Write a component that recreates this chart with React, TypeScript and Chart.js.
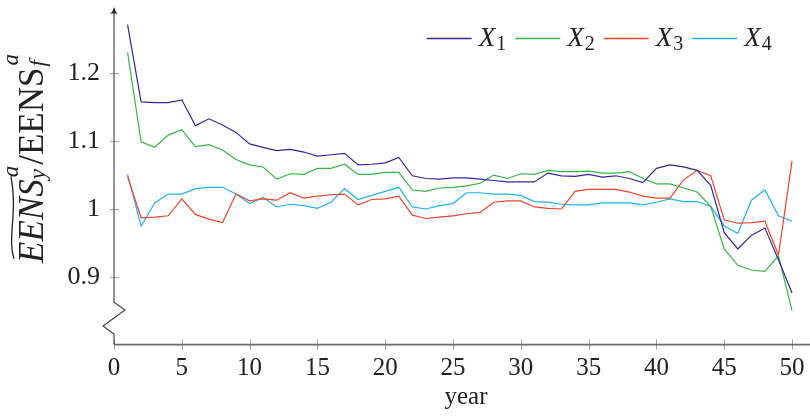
import React, { useEffect, useRef } from "react";
import { Chart, registerables } from "chart.js";

Chart.register(...registerables);

const years = [
  1, 2, 3, 4, 5, 6, 7, 8, 9, 10, 11, 12, 13, 14, 15, 16, 17, 18, 19, 20, 21, 22, 23, 24, 25,
  26, 27, 28, 29, 30, 31, 32, 33, 34, 35, 36, 37, 38, 39, 40, 41, 42, 43, 44, 45, 46, 47, 48, 49, 50,
];

const seriesX1 = [
  1.272, 1.158, 1.157, 1.157, 1.161, 1.123, 1.133, 1.124, 1.113, 1.096,
  1.091, 1.086, 1.088, 1.084, 1.078, 1.08, 1.082, 1.065, 1.066, 1.068,
  1.076, 1.049, 1.045, 1.044, 1.046, 1.046, 1.044, 1.042, 1.04, 1.04,
  1.04, 1.053, 1.049, 1.048, 1.051, 1.047, 1.049, 1.045, 1.039, 1.06,
  1.065, 1.062, 1.057, 1.035, 0.965, 0.941, 0.961, 0.972, 0.925, 0.876,
];
const seriesX2 = [
  1.231, 1.099, 1.091, 1.109, 1.117, 1.092, 1.095, 1.087, 1.073, 1.065,
  1.062, 1.044, 1.052, 1.051, 1.06, 1.06, 1.066, 1.051, 1.051, 1.054,
  1.054, 1.028, 1.026, 1.031, 1.032, 1.034, 1.038, 1.05, 1.045, 1.052,
  1.051, 1.057, 1.055, 1.055, 1.056, 1.053, 1.053, 1.055, 1.045, 1.037,
  1.037, 1.031, 1.025, 1.004, 0.941, 0.917, 0.91, 0.908, 0.931, 0.85,
];
const seriesX3 = [
  1.048, 0.987, 0.988, 0.99, 1.015, 0.992, 0.985, 0.98, 1.022, 1.012,
  1.015, 1.013, 1.024, 1.016, 1.019, 1.021, 1.022, 1.006, 1.014, 1.015,
  1.019, 0.991, 0.986, 0.988, 0.99, 0.993, 0.995, 1.01, 1.012, 1.012,
  1.003, 1.001, 1.0, 1.026, 1.029, 1.029, 1.029, 1.025, 1.019, 1.016,
  1.016, 1.043, 1.057, 1.049, 0.984, 0.979, 0.98, 0.982, 0.932, 1.071,
];
const seriesX4 = [
  1.051, 0.975, 1.009, 1.022, 1.022, 1.03, 1.032, 1.032, 1.022, 1.008,
  1.017, 1.003, 1.007, 1.005, 1.001, 1.01, 1.03, 1.014, 1.02, 1.026,
  1.032, 1.003, 1.0, 1.005, 1.008, 1.024, 1.024, 1.022, 1.022, 1.02,
  1.011, 1.01, 1.007, 1.006, 1.006, 1.009, 1.009, 1.009, 1.006, 1.01,
  1.015, 1.011, 1.011, 1.004, 0.975, 0.964, 1.013, 1.028, 0.99, 0.982,
];

const seriesNames = ["X", "X", "X", "X"];
const seriesSubs = ["1", "2", "3", "4"];
const seriesColors = ["#33289a", "#35b548", "#f0432b", "#1fb2ee"];

const xTickValues = [0, 5, 10, 15, 20, 25, 30, 35, 40, 45, 50];
const yTickValues = [0.9, 1, 1.1, 1.2];
const yTickLabels = ["0.9", "1", "1.1", "1.2"];
const xAxisTitle = "year";

const SERIF = '"Liberation Serif", "DejaVu Serif", serif';

const decor = {
  id: "decor",
  afterDraw(chart: any) {
    const { ctx, scales } = chart;
    const xs = scales.x;
    const ys = scales.y;
    const x0 = xs.getPixelForValue(0);
    const yb = ys.getPixelForValue(0.8);
    const ytop = ys.getPixelForValue(1.298);
    ctx.save();

    // tick marks
    ctx.strokeStyle = "#a0a0a0";
    ctx.lineWidth = 1;
    for (const v of yTickValues) {
      const p = Math.round(ys.getPixelForValue(v)) + 0.5;
      ctx.beginPath();
      ctx.moveTo(x0 - 4, p);
      ctx.lineTo(x0 + 5, p);
      ctx.stroke();
    }
    for (const v of xTickValues) {
      const p = Math.round(xs.getPixelForValue(v)) + 0.5;
      ctx.beginPath();
      ctx.moveTo(p, yb - 5);
      ctx.lineTo(p, yb + 5);
      ctx.stroke();
    }

    // x axis
    ctx.strokeStyle = "#6a6a6a";
    ctx.lineWidth = 1.6;
    ctx.beginPath();
    ctx.moveTo(x0, yb);
    ctx.lineTo(chart.width, yb);
    ctx.stroke();

    // y axis with break
    ctx.strokeStyle = "#3a3a3a";
    ctx.lineWidth = 1.1;
    ctx.beginPath();
    ctx.moveTo(x0, ytop + 2);
    ctx.lineTo(x0, yb - 42.3);
    ctx.lineTo(x0 + 11, yb - 34.6);
    ctx.lineTo(x0 - 11, yb - 18.6);
    ctx.lineTo(x0, yb - 10.6);
    ctx.lineTo(x0, yb);
    ctx.stroke();

    // arrow head
    ctx.fillStyle = "#222";
    ctx.beginPath();
    ctx.moveTo(x0, ytop);
    ctx.quadraticCurveTo(x0 + 1, ytop + 4, x0 + 3.5, ytop + 7);
    ctx.quadraticCurveTo(x0, ytop + 5.5, x0 - 3.5, ytop + 7);
    ctx.quadraticCurveTo(x0 - 1, ytop + 4, x0, ytop);
    ctx.fill();

    // x axis title
    ctx.fillStyle = "#222";
    ctx.font = `25px ${SERIF}`;
    ctx.textAlign = "center";
    ctx.textBaseline = "alphabetic";
    ctx.fillText(xAxisTitle, 466, 404);

    // legend
    ctx.textAlign = "left";
    let sx = 426.7;
    const ly = 38.5;
    const mainFont = `italic 27px ${SERIF}`;
    const subFont = `20px ${SERIF}`;
    for (let i = 0; i < seriesNames.length; i++) {
      ctx.strokeStyle = seriesColors[i];
      ctx.lineWidth = 1.3;
      ctx.beginPath();
      ctx.moveTo(sx, ly);
      ctx.lineTo(sx + 45, ly);
      ctx.stroke();
      ctx.fillStyle = "#222";
      ctx.font = mainFont;
      const tx = sx + 52;
      ctx.fillText(seriesNames[i], tx, 46);
      const w1 = ctx.measureText(seriesNames[i]).width;
      ctx.font = subFont;
      ctx.fillText(seriesSubs[i], tx + w1 + 1, 50);
      const w2 = ctx.measureText(seriesSubs[i]).width;
      sx = tx + w1 + 1 + w2 + 9;
    }

    // y axis title (rotated)
    ctx.save();
    ctx.translate(43, 158);
    ctx.rotate(-Math.PI / 2);
    const big = 35;
    const small = 23;
    const fItal = `italic ${big}px ${SERIF}`;
    const fUp = `${big}px ${SERIF}`;
    const fSmall = `italic ${small}px ${SERIF}`;
    ctx.font = fItal;
    const wA = ctx.measureText("EENS").width;
    ctx.font = fSmall;
    const wSup = Math.max(ctx.measureText("a").width, ctx.measureText("y").width) + 3;
    ctx.font = fUp;
    const wSl = ctx.measureText("/").width;
    const wB = ctx.measureText("EENS").width;
    const total = wA + wSup + wSl + wB + wSup;
    let px = -total / 2;
    ctx.fillStyle = "#222";
    ctx.textAlign = "left";
    ctx.font = fItal;
    ctx.fillText("EENS", px, 0);
    ctx.strokeStyle = "#222";
    ctx.lineWidth = 1.3;
    ctx.beginPath();
    const ty = -29;
    ctx.moveTo(px + 4, ty);
    ctx.bezierCurveTo(px + wA * 0.3, ty - 7, px + wA * 0.6, ty + 4, px + wA + 3, ty - 3);
    ctx.stroke();
    px += wA;
    ctx.font = fSmall;
    ctx.fillText("a", px + 2, -25);
    ctx.fillText("y", px, 2);
    px += wSup;
    ctx.font = fUp;
    ctx.fillText("/", px, 0);
    px += wSl;
    ctx.fillText("EENS", px, 0);
    px += wB;
    ctx.font = fSmall;
    ctx.fillText("a", px + 2, -25);
    ctx.fillText("f", px + 1, 2);
    ctx.restore();

    ctx.restore();
  },
};

export default function App() {
  const canvasRef = useRef<HTMLCanvasElement | null>(null);

  useEffect(() => {
    const canvas = canvasRef.current;
    if (!canvas) return;
    const mk = (data: number[], i: number) => ({
      label: seriesNames[i] + seriesSubs[i],
      data: years.map((x, j) => ({ x, y: data[j] })),
      borderColor: seriesColors[i],
      backgroundColor: seriesColors[i],
      borderWidth: 1.2,
      pointRadius: 0,
      tension: 0,
      fill: false,
    });
    const chart = new Chart(canvas, {
      type: "line",
      data: {
        datasets: [mk(seriesX1, 0), mk(seriesX2, 1), mk(seriesX3, 2), mk(seriesX4, 3)],
      },
      options: {
        animation: false,
        responsive: true,
        maintainAspectRatio: false,
        layout: { padding: { top: 5.6, right: 4.4, left: 0, bottom: 0 } },
        plugins: {
          legend: { display: false },
          tooltip: { enabled: false },
        },
        scales: {
          x: {
            type: "linear",
            min: 0,
            max: 51,
            grid: { display: false, drawTicks: false },
            border: { display: false },
            afterBuildTicks: (scale: any) => {
              scale.ticks = xTickValues.map((v) => ({ value: v }));
            },
            afterFit: (scale: any) => {
              scale.height = 71.4;
              scale.paddingLeft = 0;
              scale.paddingRight = 0;
            },
            ticks: {
              padding: 9,
              color: "#222",
              font: { family: SERIF, size: 25 },
              maxRotation: 0,
              autoSkip: false,
              callback: (v: any) => String(v),
            },
          },
          y: {
            type: "linear",
            min: 0.8,
            max: 1.3,
            grid: { display: false, drawTicks: false },
            border: { display: false },
            afterBuildTicks: (scale: any) => {
              scale.ticks = yTickValues.map((v) => ({ value: v }));
            },
            afterFit: (scale: any) => {
              scale.width = 114;
              scale.paddingTop = 0;
              scale.paddingBottom = 0;
            },
            ticks: {
              padding: 14,
              color: "#222",
              font: { family: SERIF, size: 26 },
              autoSkip: false,
              callback: (v: any) => {
                const idx = yTickValues.indexOf(Number(v));
                return idx >= 0 ? yTickLabels[idx] : "";
              },
            },
          },
        },
      },
      plugins: [decor],
    });
    return () => chart.destroy();
  }, []);

  return (
    <div style={{ position: "absolute", left: 0, top: 0, width: 810, height: 416 }}>
      <canvas ref={canvasRef} />
    </div>
  );
}
